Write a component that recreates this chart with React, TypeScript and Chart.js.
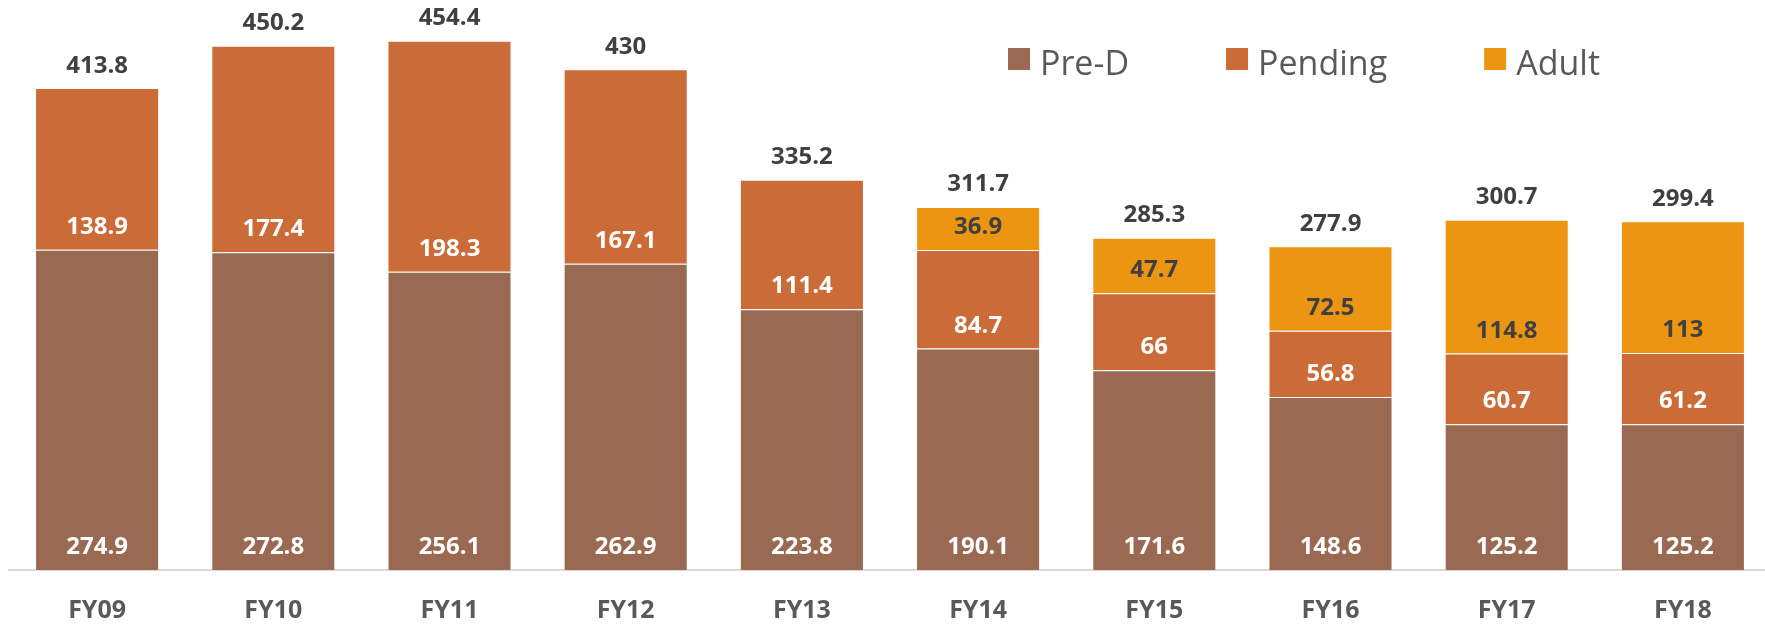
import React, { useEffect, useRef } from "react";
import { Chart, registerables } from "chart.js";

Chart.register(...registerables);

const categories = ["FY09", "FY10", "FY11", "FY12", "FY13", "FY14", "FY15", "FY16", "FY17", "FY18"];
const preD = [274.9, 272.8, 256.1, 262.9, 223.8, 190.1, 171.6, 148.6, 125.2, 125.2];
const pending = [138.9, 177.4, 198.3, 167.1, 111.4, 84.7, 66, 56.8, 60.7, 61.2];
const adult: (number | null)[] = [null, null, null, null, null, 36.9, 47.7, 72.5, 114.8, 113];
const seriesNames = ["Pre-D", "Pending", "Adult"];

const colors = ["#996951", "#CB6B38", "#EB9513"];
const labelColors = ["#FFFFFF", "#FFFFFF", "#404040"];
const FONT = '"Open Sans", "Noto Sans", sans-serif';

const labelPlugin = {
  id: "stackLabels",
  afterDatasetsDraw(chart: any) {
    const ctx = chart.ctx;
    const yScale = chart.scales.y;
    ctx.save();
    ctx.font = `bold 24px ${FONT}`;
    ctx.textAlign = "center";
    ctx.textBaseline = "alphabetic";
    chart.data.datasets.forEach((ds: any, di: number) => {
      const meta = chart.getDatasetMeta(di);
      meta.data.forEach((bar: any, i: number) => {
        const v = ds.data[i];
        if (v == null) return;
        const p = bar.getProps(["x", "base"], true);
        ctx.fillStyle = labelColors[di];
        ctx.fillText(String(v), p.x, p.base - 16);
      });
    });
    categories.forEach((_c, i) => {
      const total = Math.round((preD[i] + pending[i] + (adult[i] ?? 0)) * 10) / 10;
      const x = chart.getDatasetMeta(0).data[i].x;
      const y = yScale.getPixelForValue(total);
      ctx.fillStyle = "#404040";
      ctx.fillText(String(total), x, y - 15.5);
    });
    ctx.restore();
  },
};

const legendPlugin = {
  id: "customLegend",
  afterDraw(chart: any) {
    const ctx = chart.ctx;
    ctx.save();
    ctx.font = `34px ${FONT}`;
    ctx.textAlign = "left";
    ctx.textBaseline = "alphabetic";
    let x = 1008;
    seriesNames.forEach((n, i) => {
      ctx.fillStyle = colors[i];
      ctx.fillRect(x, 48, 22, 22);
      ctx.fillStyle = "#595959";
      ctx.fillText(n, x + 32, 75);
      x += 32 + ctx.measureText(n).width + 97;
    });
    ctx.restore();
  },
};

export default function App() {
  const ref = useRef<HTMLCanvasElement>(null);
  useEffect(() => {
    document.body.style.margin = "0";
    const canvas = ref.current;
    if (!canvas) return;
    const seriesData = [preD, pending, adult];
    const chart = new Chart(canvas, {
      type: "bar",
      data: {
        labels: categories,
        datasets: seriesNames.map((name, i) => ({
          label: name,
          data: seriesData[i] as any,
          backgroundColor: colors[i],
          borderColor: "rgba(255,255,255,0.3)",
          borderWidth: 1,
          barPercentage: 0.704,
          categoryPercentage: 1,
        })),
      },
      options: {
        responsive: false,
        animation: false,
        layout: { padding: { top: 11, left: 9, right: 0, bottom: 0 } },
        plugins: {
          legend: { display: false },
          tooltip: { enabled: false },
        },
        scales: {
          x: {
            stacked: true,
            grid: { display: false, drawTicks: false },
            border: { display: true, color: "#d9d9d9", width: 2 },
            ticks: {
              color: "#595959",
              font: { family: FONT, size: 25, weight: "bold" },
              padding: 26,
            },
          },
          y: { stacked: true, display: false, min: 0, max: 480 },
        },
      },
      plugins: [labelPlugin, legendPlugin],
    });
    return () => chart.destroy();
  }, []);
  return (
    <div style={{ width: 1765, height: 624, overflow: "hidden", background: "#fff" }}>
      <canvas ref={ref} width={1771} height={652} style={{ display: "block" }} />
    </div>
  );
}
